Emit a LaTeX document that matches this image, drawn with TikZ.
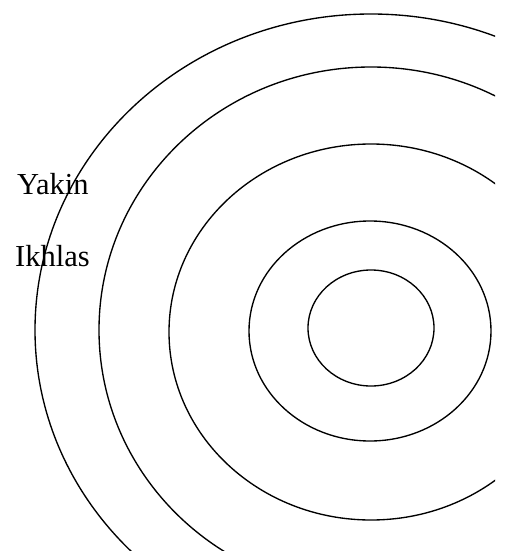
\documentclass[tikz,border=0pt]{standalone}
\usepackage{fontspec}
\setmainfont{Liberation Serif}
\begin{document}
\begin{tikzpicture}[x=1pt,y=-1pt,
  ring/.style={draw=black,line width=1.35pt},
  lbl/.style={anchor=base west,inner sep=0pt,font=\fontsize{30.5}{34}\selectfont}]
\useasboundingbox (0,0) rectangle (505,551);
\begin{scope}
\clip (0,0) rectangle (495,551);
\draw[ring] (371,328) ellipse [x radius=63,y radius=58];
\draw[ring] (370,331) ellipse [x radius=121,y radius=110];
\draw[ring] (371,332) ellipse [x radius=202,y radius=188];
\draw[ring] (371,330) ellipse [x radius=272,y radius=263];
\draw[ring] (371,330) ellipse [x radius=336,y radius=316];
\end{scope}
\node[lbl] (yakin) at (17,194) {Yakin};
\node[lbl] (ikhlas) at (15,266) {Ikhlas};
\end{tikzpicture}
\end{document}
